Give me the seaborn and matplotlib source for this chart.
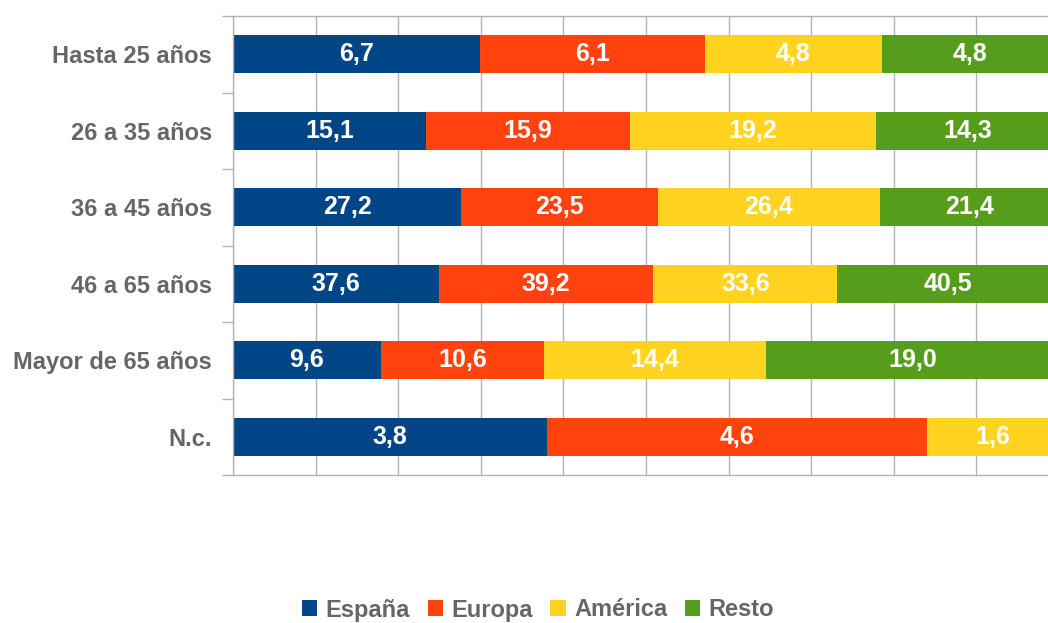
import matplotlib
matplotlib.use("Agg")
import matplotlib.pyplot as plt
from matplotlib.patches import Patch
from matplotlib.ticker import MultipleLocator, FixedLocator
import seaborn as sns
import pandas as pd
import numpy as np

sns.set_style("white")
plt.rcParams['font.family'] = ['Liberation Sans', 'DejaVu Sans']

categories = ["Hasta 25 años", "26 a 35 años", "36 a 45 años", "46 a 65 años", "Mayor de 65 años", "N.c."]
series_names = ["España", "Europa", "América", "Resto"]
espana = [6.7, 15.1, 27.2, 37.6, 9.6, 3.8]
europa = [6.1, 15.9, 23.5, 39.2, 10.6, 4.6]
america = [4.8, 19.2, 26.4, 33.6, 14.4, 1.6]
resto = [4.8, 14.3, 21.4, 40.5, 19.0, 0.0]
colors = ["#004586", "#ff420e", "#ffd320", "#579d1c"]

vals = np.array([espana, europa, america, resto])
totals = vals.sum(axis=0)
pct = vals / totals * 100
cum = np.cumsum(pct, axis=0)

fig = plt.figure(figsize=(10.48, 6.23), dpi=100)
ax = fig.add_axes([233 / 1048, (623 - 475) / 623, (1059 - 233) / 1048, (475 - 16) / 623])

for i in range(len(series_names) - 1, -1, -1):
    df = pd.DataFrame({"cat": categories, "val": cum[i]})
    sns.barplot(data=df, y="cat", x="val", order=categories, color=colors[i],
                saturation=1, width=0.5, ax=ax, orient="h", zorder=2,
                linewidth=0, edgecolor="none")

for i in range(len(series_names)):
    for j, c in enumerate(categories):
        if vals[i, j] <= 0:
            continue
        start = cum[i, j] - pct[i, j]
        ax.text(start + pct[i, j] / 2, j, f"{vals[i, j]:.1f}".replace(".", ","),
                ha="center", va="center", color="white", fontsize=18,
                fontweight="bold", zorder=5)

ax.set_xlim(0, 100)
ax.set_ylim(len(categories) - 0.5, -0.5)
ax.xaxis.set_major_locator(MultipleLocator(10))
ax.grid(axis="x", color="#b3b3b3", linewidth=1, zorder=0)
ax.set_axisbelow(True)
ax.tick_params(axis="x", length=0, labelbottom=False)
ax.set_xlabel("")
ax.set_ylabel("")
ax.yaxis.set_minor_locator(FixedLocator(np.arange(-0.5, len(categories), 1.0)))
ax.tick_params(axis="y", which="major", left=False, length=0, pad=15, labelsize=17, labelcolor="#666666")
ax.tick_params(axis="y", which="minor", left=True, length=8, width=1, color="#b3b3b3", direction="out")
for lab in ax.get_yticklabels():
    lab.set_fontweight("bold")
for s in ["left", "top", "bottom"]:
    ax.spines[s].set_color("#b3b3b3")
    ax.spines[s].set_linewidth(1)
ax.spines["right"].set_visible(False)
if ax.get_legend():
    ax.get_legend().remove()

handles = [Patch(facecolor=c, edgecolor="none") for c in colors]
leg = fig.legend(handles, series_names, loc="center", bbox_to_anchor=(538 / 1048, 13 / 623),
                 ncol=4, frameon=False, handlelength=0.65, handleheight=0.65,
                 handletextpad=0.35, columnspacing=0.75,
                 prop={"size": 17, "weight": "bold"})
for t in leg.get_texts():
    t.set_color("#666666")

fig.savefig("out.png", dpi=100)
